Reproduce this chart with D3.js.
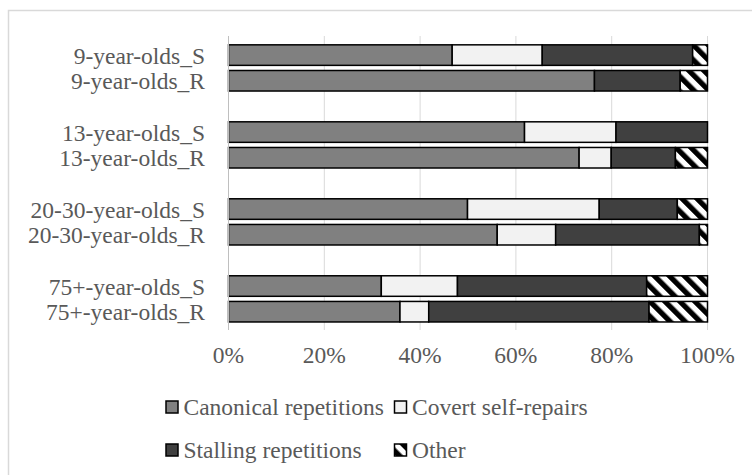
<!DOCTYPE html>
<html><head><meta charset="utf-8">
<script src="https://cdn.jsdelivr.net/npm/d3@7"></script>
<style>
html,body{margin:0;padding:0;background:#fff;}
svg{display:block;}
</style></head>
<body>
<div id="chart"></div>
<script>
const categories = ["9-year-olds_S","9-year-olds_R","gap1","13-year-olds_S","13-year-olds_R","gap2","20-30-year-olds_S","20-30-year-olds_R","gap3","75+-year-olds_S","75+-year-olds_R"];
const seriesNames = ["Canonical repetitions","Covert self-repairs","Stalling repetitions","Other"];
const canonical = [46.7, 76.4, null, 61.8, 73.2, null, 49.9, 56.1, null, 31.9, 35.8];
const covert    = [18.8, 0.0,  null, 19.1, 6.7,  null, 27.5, 12.2, null, 15.9, 6.0];
const stalling  = [31.4, 17.9, null, 19.1, 13.4, null, 16.3, 30.0, null, 39.5, 46.0];
const other     = [3.1,  5.7,  null, 0.0,  6.7,  null, 6.3,  1.7,  null, 12.7, 12.2];
const tickValues = [0, 20, 40, 60, 80, 100];

const FONT = "Liberation Serif";
const FS = 23.5;
const W = 752, H = 475;
const svg = d3.select("#chart").append("svg").attr("width", W).attr("height", H);

const defs = svg.append("defs");
const pat = defs.append("pattern").attr("id","hatch").attr("patternUnits","userSpaceOnUse")
  .attr("width",10.6).attr("height",10.6).attr("patternTransform","rotate(-45)");
pat.append("rect").attr("width",10.6).attr("height",10.6).attr("fill","#fff");
pat.append("rect").attr("width",5.3).attr("height",10.6).attr("fill","#000");

svg.append("rect").attr("x",8.5).attr("y",10.5).attr("width",W).attr("height",H)
  .attr("fill","none").attr("stroke","#d9d9d9").attr("stroke-width",1.5);

const x = d3.scaleLinear().domain([0,100]).range([228.5, 707.5]);
const y = d3.scaleBand().domain(categories).range([39.7, 327.1]).padding(0.2);

svg.append("g").selectAll("line").data(tickValues.slice(1)).join("line")
  .attr("x1", d=>x(d)).attr("x2", d=>x(d)).attr("y1", 36).attr("y2", 330)
  .attr("stroke","#d9d9d9").attr("stroke-width",1);

const colors = ["#808080","#f2f2f2","#404040","url(#hatch)"];
const seriesVals = [canonical, covert, stalling, other];

const rows = categories.map((c,i)=>({c, vals: seriesVals.map(s=>s[i])})).filter(r=>r.vals[0]!==null);
const gBars = svg.append("g");
rows.forEach(r=>{
  let acc = 0;
  r.vals.forEach((v,k)=>{
    if (v > 0) {
      gBars.append("rect").attr("x", x(acc)).attr("width", x(acc+v)-x(acc))
        .attr("y", y(r.c)).attr("height", y.bandwidth())
        .attr("fill", colors[k]).attr("stroke","#000").attr("stroke-width",1.5);
    }
    acc += v;
  });
});

svg.append("line").attr("x1",228.5).attr("x2",228.5).attr("y1",36).attr("y2",330)
  .attr("stroke","#bfbfbf").attr("stroke-width",1);

svg.append("g").selectAll("text").data(rows).join("text")
  .attr("x", 205).attr("y", d=>y(d.c)+y.bandwidth()/2).attr("dy","0.37em")
  .attr("text-anchor","end").attr("font-size",FS).style("font-family",FONT).attr("fill","#595959").text(d=>d.c);

svg.append("g").selectAll("text").data(tickValues).join("text")
  .attr("x", d=>x(d)).attr("y", 363).attr("text-anchor","middle")
  .attr("font-size",FS).style("font-family",FONT).attr("fill","#595959").text(d=>d+"%");

const legendPos = [[166,407],[394.5,407],[166,450],[394.5,450]];
const lg = svg.append("g");
seriesNames.forEach((n,k)=>{
  const [lx,ly] = legendPos[k];
  lg.append("rect").attr("x",lx).attr("y",ly-6).attr("width",12).attr("height",12)
    .attr("fill",colors[k]).attr("stroke","#000").attr("stroke-width",1.5);
  lg.append("text").attr("x",lx+17.5).attr("y",ly).attr("dy","0.36em").attr("font-size",FS)
    .style("font-family",FONT).attr("fill","#595959").text(n);
});
</script>
</body></html>
